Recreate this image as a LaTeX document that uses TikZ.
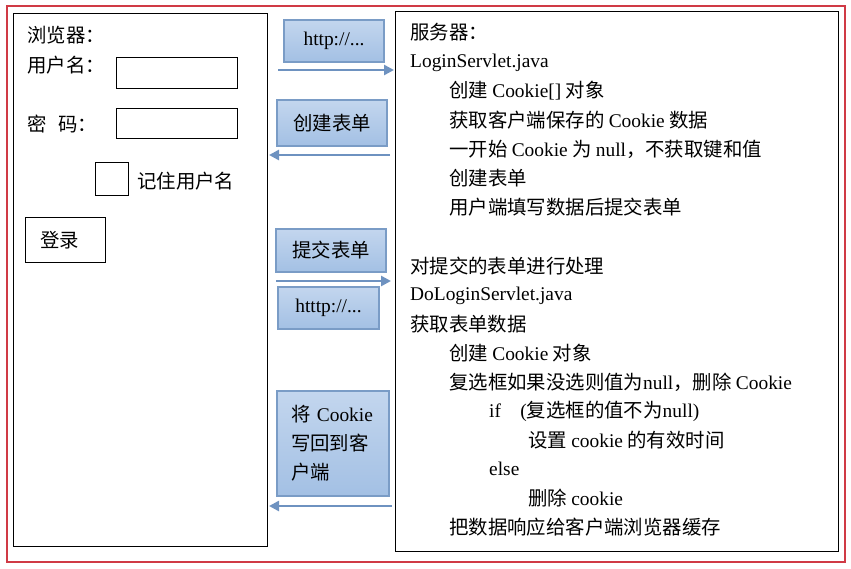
\documentclass[tikz,border=0pt]{standalone}
\usepackage{fontspec}
\setmainfont{Noto Sans CJK SC}
\newfontfamily\latinfont{Liberation Serif}
\newcommand{\en}[1]{{\latinfont #1}}
\usetikzlibrary{arrows.meta}
\definecolor{frame}{HTML}{D03A45}
\definecolor{bluetop}{HTML}{C3D6EE}
\definecolor{bluebot}{HTML}{A3C0E4}
\definecolor{blueedge}{HTML}{7A9CC6}
\definecolor{flowblue}{HTML}{6E92C0}
\tikzset{
  txt/.style={anchor=west,inner sep=0pt,font=\fontsize{19.4}{29}\selectfont},
  field/.style={draw,line width=.8pt,inner sep=0pt},
  msg/.style={draw=blueedge,line width=1.2pt,top color=bluetop,bottom color=bluebot,
    inner sep=0pt,font=\fontsize{19.4}{29}\selectfont},
  flow/.style={draw=flowblue,line width=2.6pt,-{Triangle[length=10pt,width=10pt]}}
}
\begin{document}
\begin{tikzpicture}[x=1pt,y=-1pt]
\useasboundingbox (0,0) rectangle (851,568);
\draw[frame,line width=2pt] (7,6) rectangle (845,562);
% browser side
\node[field,minimum width=254pt,minimum height=533pt] (browser) at (140,279.5) {};
\node[txt] (btitle) at (27,35) {浏览器：};
\node[txt] (ulabel) at (27,65) {用户名：};
\node[field,minimum width=121pt,minimum height=31pt] (ufield) at (176.5,72.5) {};
\node[txt] (plabel) at (27,124) {密\hspace{.6em}码：};
\node[field,minimum width=121pt,minimum height=30pt] (pfield) at (176.5,123) {};
\node[field,minimum width=33pt,minimum height=33pt] (check) at (111.5,178.5) {};
\node[txt] (clabel) at (137,181) {记住用户名};
\node[field,minimum width=80pt,minimum height=45pt] (login) at (65,239.5) {};
\node[txt] (ltext) at (40,240) {登录};
% server side
\node[field,minimum width=443pt,minimum height=540pt] (server) at (616.5,281) {};
\node[txt] (s1) at (410,32) {服务器：};
\node[txt] (s2) at (410,63) {\en{LoginServlet.java}};
\node[txt] (s3) at (449,91) {创建 \en{Cookie[]}\ 对象};
\node[txt] (s4) at (449,120) {获取客户端保存的 \en{Cookie} 数据};
\node[txt] (s5) at (449,149) {一开始 \en{Cookie} 为 \en{null}，不获取键和值};
\node[txt] (s6) at (449,178) {创建表单};
\node[txt] (s7) at (449,207) {用户端填写数据后提交表单};
\node[txt] (s8) at (410,266) {对提交的表单进行处理};
\node[txt] (s9) at (410,296) {\en{DoLoginServlet.java}};
\node[txt] (s10) at (410,324) {获取表单数据};
\node[txt] (s11) at (449,353) {创建 \en{Cookie} 对象};
\node[txt] (s12) at (449,382) {复选框如果没选则值为\en{null}，删除 \en{Cookie}};
\node[txt] (s13) at (489,411) {\en{if\quad(}复选框的值不为\en{null)}};
\node[txt] (s14) at (528,440) {设置 \en{cookie} 的有效时间};
\node[txt] (s15) at (489,469) {\en{else}};
\node[txt] (s16) at (528,498) {删除 \en{cookie}};
\node[txt] (s17) at (449,527) {把数据响应给客户端浏览器缓存};
% messages
\node[msg,minimum width=100pt,minimum height=42pt] (m1) at (334,41) {\en{http://...}};
\node[msg,minimum width=110pt,minimum height=46pt] (m2) at (332,123) {创建表单};
\node[msg,minimum width=110pt,minimum height=43pt] (m3) at (331,250.5) {提交表单};
\node[msg,minimum width=101pt,minimum height=42pt] (m4) at (328.5,308) {\en{htttp://...}};
\node[msg,minimum width=112pt,minimum height=105pt,align=left,text width=84pt] (m5) at (333,443.5)
  {将 \en{Cookie}\\写回到客\\户端};
\coordinate (a1) at (278,70);
\coordinate (b1) at (394,70);
\coordinate (a2) at (390,155);
\coordinate (b2) at (269,155);
\coordinate (a3) at (276,281);
\coordinate (b3) at (391,281);
\coordinate (a4) at (392,506);
\coordinate (b4) at (269,506);
\draw[flow] (a1) -- (b1);
\draw[flow] (a2) -- (b2);
\draw[flow] (a3) -- (b3);
\draw[flow] (a4) -- (b4);
\end{tikzpicture}
\end{document}
